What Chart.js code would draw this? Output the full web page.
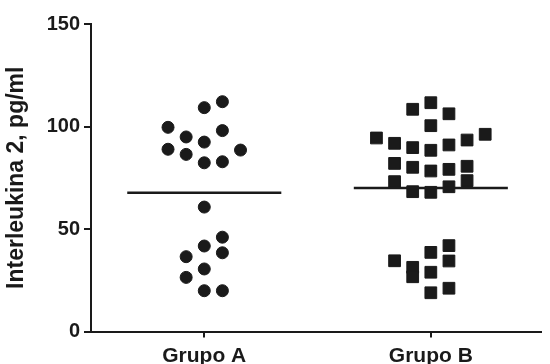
<!DOCTYPE html>
<html>
<head>
<meta charset="utf-8">
<script src="https://cdn.jsdelivr.net/npm/chart.js@4"></script>
<style>
	html, body { margin: 0; padding: 0; background: #fff; }
	#wrap { width: 550px; height: 364px; }
</style>
</head>
<body>
<div id="wrap"><canvas id="myChart"></canvas></div>
<script>
	// categories
	const groups = ['Grupo A', 'Grupo B'];

	// Grupo A values (pg/ml) and the dot column each one sits in
	const grupoA = [112.1, 109.2, 99.6, 98.0, 94.9, 92.4, 88.9, 88.5, 86.4, 82.3, 82.8,
		60.7, 46.0, 41.7, 36.5, 38.4, 30.5, 26.4, 19.9, 19.9];
	const grupoACols = [1, 0, -2, 1, -1, 0, -2, 2, -1, 0, 1,
		0, 1, 0, -1, 1, 0, -1, 0, 1];

	// Grupo B values (pg/ml) and their dot columns
	const grupoB = [111.6, 108.4, 106.2, 100.4, 94.4, 96.2, 93.4, 91.8, 89.7, 88.4, 91.0,
		82.0, 80.1, 78.3, 79.1, 80.6, 73.1, 73.6, 70.6, 68.2, 67.9,
		41.9, 38.6, 34.4, 34.5, 31.3, 26.7, 28.9, 21.1, 18.9];
	const grupoBCols = [0, -1, 1, 0, -3, 3, 2, -2, -1, 0, 1,
		-2, -1, 0, 1, 2, -2, 2, 1, -1, 0,
		1, 0, 1, -2, -1, -1, 0, 1, 0];

	// horizontal line per group
	const groupLines = [67.7, 70.0];

	// y axis ticks
	const yTicks = [0, 50, 100, 150];

	const colStep = 0.08;
	const lineHalf = 0.34;
	const ink = '#1a1a1a';
	const fam = 'Liberation Sans, Arial, sans-serif';

	const toPoints = (vals, cols, g) => vals.map((v, i) => ({ x: g + cols[i] * colStep, y: v }));

	var ctx = document.getElementById('myChart').getContext('2d');
	var myChart = new Chart(ctx, {
		type: 'scatter',
		data: {
			datasets: [{
				label: 'lineA',
				type: 'line',
				data: [{ x: -lineHalf, y: groupLines[0] }, { x: lineHalf, y: groupLines[0] }],
				borderColor: ink,
				borderWidth: 2.5,
				pointRadius: 0
			}, {
				label: 'lineB',
				type: 'line',
				data: [{ x: 1 - lineHalf, y: groupLines[1] }, { x: 1 + lineHalf, y: groupLines[1] }],
				borderColor: ink,
				borderWidth: 2.5,
				pointRadius: 0
			}, {
				label: groups[0],
				data: toPoints(grupoA, grupoACols, 0),
				pointStyle: 'circle',
				pointRadius: 6,
				borderWidth: 1,
				backgroundColor: ink,
				borderColor: ink
			}, {
				label: groups[1],
				data: toPoints(grupoB, grupoBCols, 1),
				pointStyle: 'rect',
				pointRadius: 8.3,
				borderWidth: 1,
				backgroundColor: ink,
				borderColor: ink
			}]
		},
		options: {
			responsive: true,
			maintainAspectRatio: false,
			animation: false,
			events: [],
			layout: {
				padding: { top: 24, right: 0, bottom: 0, left: 0 }
			},
			plugins: {
				legend: { display: false },
				tooltip: { enabled: false }
			},
			scales: {
				x: {
					type: 'linear',
					min: -0.5,
					max: 1.485,
					afterBuildTicks: (axis) => {
						axis.ticks = groups.map((g, i) => ({ value: i }));
					},
					afterFit: (axis) => { axis.height = 32.5; },
					border: { color: ink, width: 2 },
					grid: { drawOnChartArea: false, color: ink, lineWidth: 2, tickLength: 6 },
					ticks: {
						color: ink,
						padding: 6,
						maxRotation: 0,
						font: { family: fam, size: 21, weight: 'bold' },
						callback: (v) => groups[v]
					}
				},
				y: {
					min: 0,
					max: 150,
					afterBuildTicks: (axis) => {
						axis.ticks = yTicks.map((t) => ({ value: t }));
					},
					afterFit: (axis) => { axis.width = 91; },
					border: { color: ink, width: 2 },
					grid: { drawOnChartArea: false, color: ink, lineWidth: 2, tickLength: 7 },
					ticks: {
						color: ink,
						padding: 4,
						font: { family: fam, size: 20, weight: 'bold' }
					},
					title: {
						display: true,
						text: 'Interleukina 2, pg/ml',
						color: ink,
						padding: { top: 3, bottom: 0 },
						font: { family: fam, size: 23, weight: 'bold' }
					}
				}
			}
		}
	});
</script>
</body>
</html>
